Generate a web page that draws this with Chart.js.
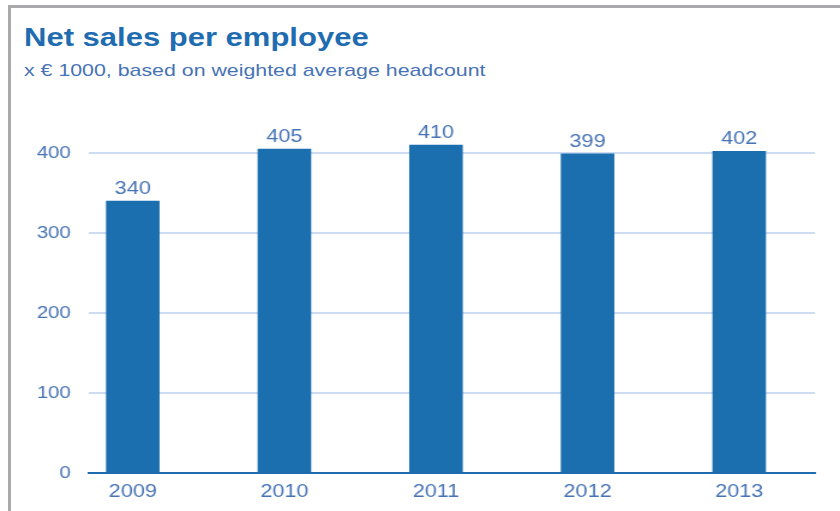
<!DOCTYPE html>
<html>
<head>
<meta charset="utf-8">
<script src="https://cdn.jsdelivr.net/npm/chart.js@4/dist/chart.umd.min.js"></script>
<style>
  html, body { margin: 0; padding: 0; background: #fff; }
  body { width: 840px; height: 511px; position: relative; overflow: hidden; font-family: "Liberation Sans", Arial, sans-serif; }
  .frame { position: absolute; left: 8px; top: 5px; width: 860px; height: 540px; border-left: 3px solid #a9a9ab; border-top: 3px solid #a9a9ab; box-sizing: border-box; }
  /* the reference text is a bit wider than Arial/Helvetica, so stretch it */
  .title { position: absolute; left: 24px; top: 25px; font-size: 25px; line-height: 1; font-weight: bold; color: #1f6db0; white-space: nowrap; transform: scaleX(1.24); transform-origin: 0 0; }
  .subtitle { position: absolute; left: 24px; top: 62px; font-size: 17px; line-height: 1; color: #4773b5; white-space: nowrap; transform: scaleX(1.255); transform-origin: 0 0; }
  #wrap { position: absolute; left: 0; top: 0; width: 840px; height: 511px; }
</style>
</head>
<body>
<div class="frame"></div>
<div class="title">Net sales per employee</div>
<div class="subtitle">x € 1000, based on weighted average headcount</div>
<div id="wrap"><canvas id="salesChart" width="700" height="511" style="width:840px;height:511px;display:block"></canvas></div>
<script>
const years = [2009, 2010, 2011, 2012, 2013];
const salesPerEmployee = [340, 405, 410, 399, 402];
const yTicks = [0, 100, 200, 300, 400];

const barBlue = '#1b6fae';
const textBlue = '#4773b5';
const fontFamily = '"Liberation Sans", Arial, sans-serif';

// value labels above the bars
const valueLabels = {
    id: 'valueLabels',
    afterDatasetsDraw(chart) {
        const c = chart.ctx;
        const meta = chart.getDatasetMeta(0);
        c.save();
        c.font = '18px ' + fontFamily;
        c.fillStyle = textBlue;
        c.textAlign = 'center';
        c.textBaseline = 'alphabetic';
        meta.data.forEach((bar, i) => {
            c.fillText(String(salesPerEmployee[i]), bar.x, bar.y - 7);
        });
        c.restore();
    }
};

// canvas is 700 wide and stretched to 840 by css (factor 1.2)
const ctx = document.getElementById('salesChart').getContext('2d');
const salesChart = new Chart(ctx, {
    type: 'bar',
    data: {
        datasets: [{
            data: years.map((y, i) => ({ x: y, y: salesPerEmployee[i] })),
            backgroundColor: barBlue,
            borderWidth: 0,
            barThickness: 44
        }]
    },
    options: {
        responsive: false,
        animation: false,
        devicePixelRatio: 1,
        layout: { padding: { left: 0, top: 121, right: 21, bottom: 0 } },
        plugins: {
            legend: { display: false },
            tooltip: { enabled: false }
        },
        scales: {
            x: {
                type: 'linear',
                min: 2008.71,
                max: 2013.499,
                offset: false,
                afterBuildTicks: scale => { scale.ticks = years.map(v => ({ value: v })); },
                afterFit: scale => { scale.height = 38; },
                grid: { display: false, drawTicks: false },
                border: { display: true, color: '#1f6db0', width: 2 },
                ticks: {
                    padding: 8,
                    color: textBlue,
                    font: { family: fontFamily, size: 18 },
                    callback: v => String(v),
                    maxRotation: 0
                }
            },
            y: {
                min: 0,
                max: 440,
                afterBuildTicks: scale => { scale.ticks = yTicks.map(v => ({ value: v })); },
                afterFit: scale => { scale.width = 74; },
                grid: {
                    drawTicks: false,
                    color: c => c.tick && c.tick.value === 0 ? 'rgba(0,0,0,0)' : '#cddcf2',
                    lineWidth: 2
                },
                border: { display: false },
                ticks: {
                    padding: 15,
                    color: textBlue,
                    font: { family: fontFamily, size: 17 }
                }
            }
        }
    },
    plugins: [valueLabels]
});
</script>
</body>
</html>
